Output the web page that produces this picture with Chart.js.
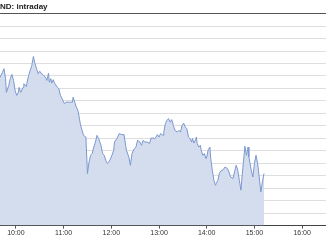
<!DOCTYPE html>
<html>
<head>
<meta charset="utf-8">
<script src="https://cdn.jsdelivr.net/npm/chart.js@4.4.1/dist/chart.umd.min.js"></script>
<style>
  html, body { margin: 0; padding: 0; background: #fff; }
  canvas { display: block; }
</style>
</head>
<body>
<canvas id="myChart" width="326" height="245"></canvas>
<script>
// intraday data
var chartTitle = "ND: intraday";
var tickLabels = ["10:00", "11:00", "12:00", "13:00", "14:00", "15:00", "16:00"];
var times = [
  "9:40", "9:43", "9:45", "9:47", "9:48", "9:51", "9:53", "9:55", "9:57", "9:59",
  "10:01", "10:03", "10:04", "10:06", "10:09", "10:10", "10:13", "10:16", "10:18", "10:20",
  "10:22", "10:24", "10:26", "10:28", "10:30", "10:32", "10:34", "10:37", "10:39", "10:41",
  "10:42", "10:44", "10:45", "10:47", "10:49", "10:52", "10:54", "10:56", "10:58", "11:01",
  "11:03", "11:07", "11:11", "11:12", "11:14", "11:16", "11:18", "11:21", "11:22", "11:25",
  "11:28", "11:30", "11:32", "11:34", "11:36", "11:38", "11:40", "11:42", "11:44", "11:47",
  "11:49", "11:51", "11:53", "11:55", "11:57", "12:00", "12:03", "12:04", "12:07", "12:10",
  "12:13", "12:16", "12:18", "12:19", "12:22", "12:24", "12:26", "12:29", "12:31", "12:33",
  "12:36", "12:38", "12:40", "12:42", "12:45", "12:48", "12:50", "12:52", "12:55", "12:58",
  "13:00", "13:02", "13:05", "13:06", "13:08", "13:10", "13:12", "13:14", "13:16", "13:18",
  "13:20", "13:23", "13:25", "13:27", "13:29", "13:31", "13:33", "13:35", "13:37", "13:39",
  "13:41", "13:42", "13:44", "13:46", "13:47", "13:48", "13:50", "13:52", "13:53", "13:55",
  "13:57", "13:59", "14:00", "14:02", "14:04", "14:05", "14:07", "14:09", "14:11", "14:12",
  "14:14", "14:16", "14:18", "14:21", "14:23", "14:26", "14:28", "14:30", "14:33", "14:35",
  "14:37", "14:39", "14:41", "14:43", "14:44", "14:46", "14:48", "14:50", "14:52", "14:53",
  "14:56", "14:58", "15:00", "15:02", "15:04", "15:06", "15:08", "15:10", "15:12"
];
var prices = [
  118.8, 122.8, 125.8, 118, 106.8, 112.4, 118, 121.2, 116.4, 108.4,
  104.4, 106.8, 110.8, 106.8, 110.8, 113.8, 111.6, 120.4, 124.4, 128.4,
  135.6, 129.8, 125.8, 121.8, 123.8, 121.8, 121.2, 119, 116.4, 122.2,
  115, 117.8, 114.2, 117, 113.8, 111, 109.8, 104.4, 101.8, 97.8,
  99, 99, 99, 103, 99, 95, 92.4, 81.8, 79, 72.4,
  71, 41.8, 51, 56.4, 57.8, 63, 67, 72.4, 69.8, 64.4,
  57.8, 56.4, 52.4, 49.8, 51, 55, 60.4, 67, 69.8, 73.8,
  73, 73, 64.4, 60.4, 55, 48.4, 57.8, 61.8, 63, 68.4,
  67, 64.4, 68.4, 67, 67, 65.8, 70.2, 70.2, 69.8, 73,
  71, 73.8, 72.4, 75, 81.8, 84.4, 85.8, 83, 85, 80.4,
  76.4, 75, 76.4, 75, 80.4, 82.2, 79, 77.8, 71, 69.8,
  67, 69.8, 66.2, 69, 71, 65.8, 63, 64.4, 60.4, 56.4,
  57.8, 53.8, 55, 61, 63, 53.8, 44.4, 36.4, 32.4, 33.8,
  36.4, 42.2, 43.8, 45, 47, 45.8, 43, 39, 37.8, 43,
  48.4, 44.4, 36.4, 28.4, 36.4, 49.8, 63.6, 56.4, 63, 55,
  44.4, 39, 49.8, 56.4, 49.8, 39, 27, 35, 41.8
];

function toMinutes(t) {
  var p = t.split(":");
  return parseInt(p[0]) * 60 + parseInt(p[1]);
}

function toLabel(m) {
  return Math.floor(m / 60) + ":" + String(m % 60).padStart(2, "0");
}

var points = [];
for (var i = 0; i < times.length; i++) {
  points.push({ x: toMinutes(times[i]), y: prices[i] });
}
var hourTicks = tickLabels.map(toMinutes);

var ctx = document.getElementById("myChart").getContext("2d");
var chart = new Chart(ctx, {
  type: "line",
  data: {
    datasets: [
      {
        data: points,
        borderColor: "#7d98cf",
        borderWidth: 1,
        backgroundColor: "rgb(211,221,237)",
        fill: "origin",
        pointRadius: 0,
        tension: 0,
      },
    ],
  },
  options: {
    responsive: false,
    animation: false,
    layout: { padding: { left: 0, right: 0, top: 0, bottom: 8 } },
    plugins: {
      legend: { display: false },
      tooltip: { enabled: false },
      title: {
        display: true,
        text: chartTitle,
        align: "start",
        color: "#222",
        font: { family: "Arial, 'Liberation Sans'", size: 8, weight: "bold" },
        padding: { top: 2, bottom: 2 },
      },
    },
    scales: {
      x: {
        type: "linear",
        min: 580,
        max: 990,
        z: 1,
        afterBuildTicks: function (scale) {
          scale.ticks = hourTicks.map(function (v) { return { value: v }; });
        },
        grid: { drawOnChartArea: false, drawTicks: true, tickLength: 3, color: "#555" },
        border: { display: true, color: "#444", width: 1 },
        ticks: {
          padding: 0,
          color: "#333",
          font: { family: "Arial, 'Liberation Sans'", size: 7 },
          maxRotation: 0,
          callback: function (v) { return toLabel(v); },
        },
      },
      y: {
        min: 0,
        max: 170,
        z: 1,
        ticks: { display: false, stepSize: 10 },
        border: { display: false },
        grid: {
          drawTicks: false,
          color: function (c) {
            if (c.tick.value === 170) return "#555";
            if (c.tick.value === 0) return "rgba(0,0,0,0)";
            return "rgba(0,0,0,0.13)";
          },
        },
      },
    },
  },
});
</script>
</body>
</html>
